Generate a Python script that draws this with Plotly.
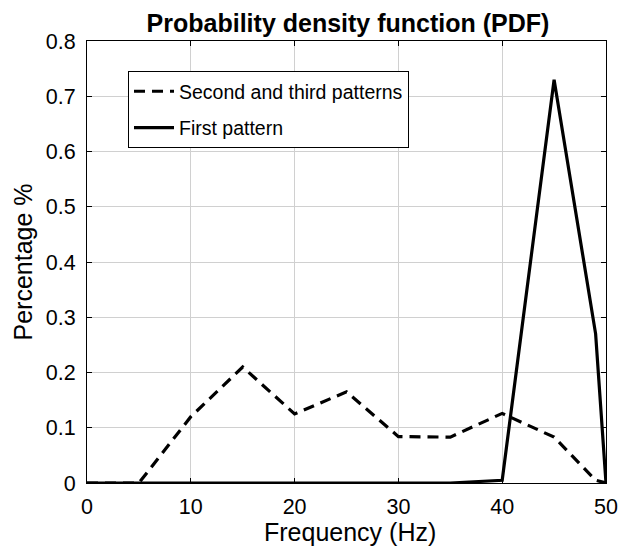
import plotly.graph_objects as go

# Data
dashed_x = [0, 5, 10, 15, 20, 25, 30, 35, 40, 45, 49, 50]
dashed_y = [0, 0, 0.12, 0.21, 0.125, 0.165, 0.084, 0.083, 0.126, 0.083, 0.005, 0]
solid_x = [0, 35, 40, 45, 49, 50]
solid_y = [0, 0, 0.005, 0.73, 0.27, 0]

x_ticks = [0, 10, 20, 30, 40, 50]
y_ticks = [0, 0.1, 0.2, 0.3, 0.4, 0.5, 0.6, 0.7, 0.8]

FONT = "Liberation Sans, Arial, sans-serif"

fig = go.Figure()
fig.add_trace(go.Scatter(x=dashed_x, y=dashed_y, mode="lines",
                         name="Second and third patterns", legendgroup="a",
                         line=dict(color="black", width=3.2, dash="11px,7px")))
fig.add_trace(go.Scatter(x=solid_x, y=solid_y, mode="lines",
                         name="First pattern", legendgroup="b",
                         line=dict(color="black", width=3.2)))

axis_common = dict(showline=True, linecolor="black", linewidth=1, mirror="ticks",
                   ticks="inside", ticklen=5, tickcolor="black",
                   showgrid=True, gridcolor="#d0d0d0", gridwidth=1,
                   zeroline=False, tickfont=dict(family=FONT, size=21.5, color="black"))

fig.update_layout(
    width=630, height=547,
    margin=dict(l=79, r=32, t=33, b=72, autoexpand=False),
    paper_bgcolor="white", plot_bgcolor="white",
    title=dict(text="<b>Probability density function (PDF)</b>",
               x=340 / 630, xanchor="center",
               y=1 - 15.5 / 547, yanchor="middle",
               font=dict(family=FONT, size=25, color="black")),
    xaxis=dict(range=[0, 50], tickvals=x_ticks, ticklabelstandoff=4,
               **axis_common),
    yaxis=dict(range=[0, 0.8], tickvals=y_ticks, ticklabelstandoff=6,
               ticktext=[str(v) for v in y_ticks],
               title=dict(text="Percentage %", standoff=6,
                          font=dict(family=FONT, size=25, color="black")),
               **axis_common),
    legend=dict(x=0.079, y=0.932, xanchor="left", yanchor="top",
                bgcolor="white", bordercolor="black", borderwidth=1,
                font=dict(family=FONT, size=19.5, color="black"),
                tracegroupgap=8, itemwidth=40),
    showlegend=True,
    annotations=[dict(text="Frequency (Hz)", xref="paper", yref="paper",
                      x=(342 - 79) / 519, y=-49 / 442,
                      xanchor="center", yanchor="middle", showarrow=False,
                      font=dict(family=FONT, size=25, color="black"))],
)

fig.write_html("out.html")
